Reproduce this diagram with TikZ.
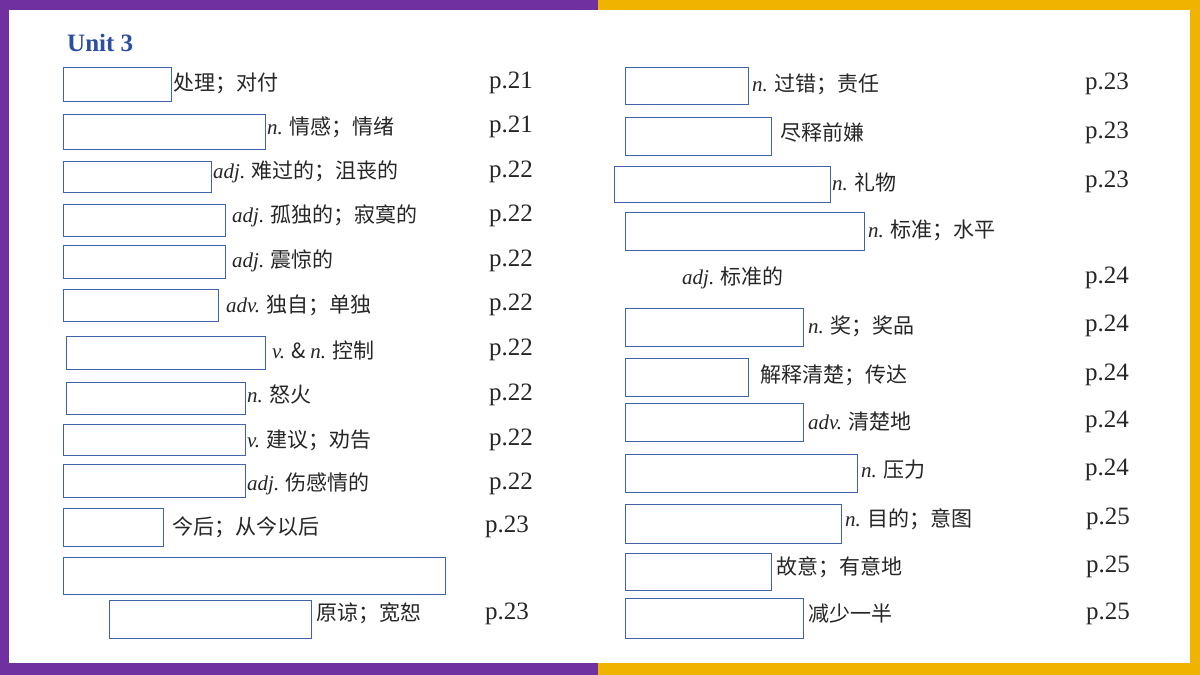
\documentclass[tikz,border=0pt]{standalone}
\usepackage{fontspec}
\setmainfont{Liberation Serif}
\newfontfamily\cjk{Noto Sans CJK SC}
\definecolor{purp}{HTML}{7030A0}
\definecolor{yel}{HTML}{F0B400}
\definecolor{boxc}{HTML}{3F62A8}
\definecolor{unitc}{HTML}{2C4EA0}
\definecolor{txt}{HTML}{262626}
\tikzset{
  box/.style={draw=boxc,line width=0.9pt,fill=white,anchor=north west,inner sep=0pt},
  lbl/.style={anchor=west,inner sep=0pt,text=txt,font=\fontsize{21}{21}\selectfont\cjk},
  pg/.style={anchor=center,inner sep=0pt,text=txt,font=\fontsize{25}{25}\selectfont}
}
\newcommand{\bx}[5]{\node[box,minimum width={(#4-#2)*1pt},minimum height={(#5-#3)*1pt}] (#1) at (#2,#3) {};}
\newcommand{\ps}[1]{{\rmfamily\itshape #1}}
\begin{document}
\begin{tikzpicture}[x=1pt,y=-1pt]
\useasboundingbox (0,0) rectangle (1200,675);
\fill[purp] (0,0) rectangle (598,675);
\fill[yel] (598,0) rectangle (1200,675);
\fill[purp] (0,663) rectangle (575,675);
\fill[white] (9,10) rectangle (1190,663);
\node[anchor=west,inner sep=0pt,text=unitc,font=\fontsize{25}{25}\selectfont\bfseries] (unit) at (67,43) {Unit 3};
% left column
\bx{l1}{63}{67}{171}{101}
\node[lbl] (t1) at (173,83) {处理；对付};
\node[pg] (p1) at (511,83) {p.21};
\bx{l2}{63}{114}{265}{149}
\node[lbl] (t2) at (267,127) {\ps{n.} 情感；情绪};
\node[pg] (p2) at (511,127) {p.21};
\bx{l3}{63}{161}{211}{192}
\node[lbl] (t3) at (213,172) {\ps{adj.} 难过的；沮丧的};
\node[pg] (p3) at (511,172) {p.22};
\bx{l4}{63}{204}{225}{236}
\node[lbl] (t4) at (232,216) {\ps{adj.} 孤独的；寂寞的};
\node[pg] (p4) at (511,216) {p.22};
\bx{l5}{63}{245}{225}{278}
\node[lbl] (t5) at (232,261) {\ps{adj.} 震惊的};
\node[pg] (p5) at (511,261) {p.22};
\bx{l6}{63}{289}{218}{321}
\node[lbl] (t6) at (226,305) {\ps{adv.} 独自；单独};
\node[pg] (p6) at (511,305) {p.22};
\bx{l7}{66}{336}{265}{369}
\node[lbl] (t7) at (272,350) {\ps{v.} \& \ps{n.} 控制};
\node[pg] (p7) at (511,350) {p.22};
\bx{l8}{66}{382}{245}{414}
\node[lbl] (t8) at (247,395) {\ps{n.} 怒火};
\node[pg] (p8) at (511,395) {p.22};
\bx{l9}{63}{424}{245}{455}
\node[lbl] (t9) at (247,440) {\ps{v.} 建议；劝告};
\node[pg] (p9) at (511,440) {p.22};
\bx{l10}{63}{464}{245}{497}
\node[lbl] (t10) at (247,484) {\ps{adj.} 伤感情的};
\node[pg] (p10) at (511,484) {p.22};
\bx{l11}{63}{508}{163}{546}
\node[lbl] (t11) at (172,527) {今后；从今以后};
\node[pg] (p11) at (507,527) {p.23};
\bx{l12}{63}{557}{445}{594}
\bx{l13}{109}{600}{311}{638}
\node[lbl] (t13) at (316,613) {原谅；宽恕};
\node[pg] (p13) at (507,614) {p.23};
% right column
\bx{r1}{625}{67}{748}{104}
\node[lbl] (u1) at (752,84) {\ps{n.} 过错；责任};
\node[pg] (q1) at (1107,84) {p.23};
\bx{r2}{625}{117}{771}{155}
\node[lbl] (u2) at (780,133) {尽释前嫌};
\node[pg] (q2) at (1107,133) {p.23};
\bx{r3}{614}{166}{830}{202}
\node[lbl] (u3) at (832,182) {\ps{n.} 礼物};
\node[pg] (q3) at (1107,182) {p.23};
\bx{r4}{625}{212}{864}{250}
\node[lbl] (u4) at (868,230) {\ps{n.} 标准；水平};
\node[lbl] (u4b) at (682,278) {\ps{adj.} 标准的};
\node[pg] (q4) at (1107,278) {p.24};
\bx{r5}{625}{308}{803}{346}
\node[lbl] (u5) at (808,326) {\ps{n.} 奖；奖品};
\node[pg] (q5) at (1107,326) {p.24};
\bx{r6}{625}{358}{748}{396}
\node[lbl] (u6) at (760,375) {解释清楚；传达};
\node[pg] (q6) at (1107,375) {p.24};
\bx{r7}{625}{403}{803}{441}
\node[lbl] (u7) at (808,422) {\ps{adv.} 清楚地};
\node[pg] (q7) at (1107,422) {p.24};
\bx{r8}{625}{454}{857}{492}
\node[lbl] (u8) at (861,470) {\ps{n.} 压力};
\node[pg] (q8) at (1107,470) {p.24};
\bx{r9}{625}{504}{841}{543}
\node[lbl] (u9) at (845,519) {\ps{n.} 目的；意图};
\node[pg] (q9) at (1108,519) {p.25};
\bx{r10}{625}{553}{771}{590}
\node[lbl] (u10) at (776,567) {故意；有意地};
\node[pg] (q10) at (1108,567) {p.25};
\bx{r11}{625}{598}{803}{638}
\node[lbl] (u11) at (808,614) {减少一半};
\node[pg] (q11) at (1108,614) {p.25};
\end{tikzpicture}
\end{document}
